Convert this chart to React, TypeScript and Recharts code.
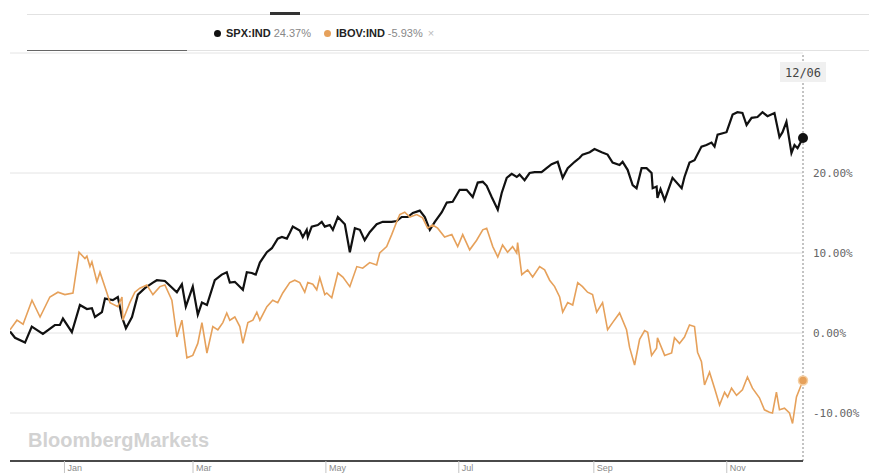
import React from 'react';
import {
  LineChart,
  Line,
  XAxis,
  YAxis,
  CartesianGrid,
  ReferenceLine,
  ReferenceDot,
} from 'recharts';

// ---- data (day offset from 2020-12-07, % change) ----
const monthTicks = [25, 84, 145, 206, 268, 329];
const monthLabels = ['Jan', 'Mar', 'May', 'Jul', 'Sep', 'Nov'];
const yTicks = [-10, 0, 10, 20];
const seriesNames = ['SPX:IND', 'IBOV:IND'];
const seriesChanges = ['24.37%', '-5.93%'];
const seriesColors = ['#111111', '#e6a15b'];
const lastDay = 364;
const lastDateLabel = '12/06';

const spx: [number, number][] = [
  [0, 0.2], [2.3, -0.6], [6.9, -1.2], [10, 0.8], [15.1, -0.1], [20.6, 1.0], [22.9, 1.0], [24.3, 1.8],
  [28.4, 0.1], [32.1, 3.5], [35.3, 3.0], [37.6, 3.1], [39, 2.0], [42.2, 2.6], [43.6, 4.3], [47.2, 4.1],
  [49.5, 4.5], [51.4, 2.0], [53.2, 0.6], [56, 2.0], [58.7, 4.8], [61.9, 5.6], [65.6, 6.3], [67.4, 6.6],
  [71.1, 6.5], [76.6, 5.1], [78.9, 6.1], [80.7, 3.3], [83.9, 5.8], [86.2, 2.3], [88.1, 3.8], [90.4, 3.5],
  [94, 6.6], [97.2, 7.3], [99.5, 7.6], [100.9, 6.3], [103.2, 6.4], [106.9, 5.4], [108.7, 7.6], [111, 7.5],
  [112.8, 7.3], [114.7, 8.8], [117.9, 10.1], [120.2, 10.6], [122.9, 11.8], [124.8, 12.0], [127.1, 11.8],
  [128.4, 12.5], [129.8, 13.3], [133, 12.8], [134.4, 12.0], [136.2, 12.9], [136.7, 12.0], [138.5, 13.3],
  [141.3, 13.5], [143.1, 13.9], [144.5, 13.3], [146.8, 13.5], [148.2, 12.9], [150.5, 14.5], [153.7, 13.6],
  [156, 10.1], [158.3, 13.1], [160.6, 12.9], [162.8, 11.6], [165.1, 12.6], [168.3, 13.6], [171.1, 13.9],
  [175.2, 13.9], [177.5, 14.0], [179.8, 14.5], [182.6, 14.5], [184.9, 15.0], [188.1, 15.3], [190.4, 14.5],
  [192.7, 12.9], [195, 13.9], [198.2, 15.1], [200.5, 16.3], [203.2, 16.4], [206.4, 17.9], [209.6, 17.9],
  [212.4, 17.0], [214.7, 18.8], [217, 18.9], [218.8, 18.4], [221.1, 17.0], [223.9, 15.4], [225.7, 17.5],
  [228, 19.4], [230.3, 19.9], [232.6, 19.5], [233.9, 19.8], [236.2, 19.1], [238.5, 20.0], [240.8, 20.1],
  [244, 20.1], [246.3, 20.6], [248.6, 21.1], [251.4, 21.4], [253.7, 19.4], [256, 20.6], [259.2, 21.4],
  [261.5, 21.9], [262.8, 22.3], [266.1, 22.6], [268.3, 23.0], [271.6, 22.6], [274.3, 22.3], [276.6, 21.3],
  [279.8, 21.0], [281.2, 21.4], [283.5, 20.4], [285.8, 18.5], [287.6, 18.1], [289.9, 20.6], [292.2, 20.6],
  [294.5, 20.0], [295, 18.1], [296.8, 18.3], [297.2, 16.9], [298.6, 18.0], [300.5, 16.6], [304.1, 19.4],
  [308.3, 18.1], [309.6, 19.5], [311.9, 21.3], [314.2, 21.6], [317.4, 23.3], [319.7, 23.5], [322, 23.8],
  [323.4, 23.3], [324.8, 24.8], [328.9, 25.1], [331.7, 27.3], [333.9, 27.6], [336.2, 27.5], [338.1, 26.0],
  [340.4, 26.9], [343.1, 27.0], [345.4, 27.6], [347.7, 27.1], [350.9, 27.5], [353.2, 24.5], [354.6, 25.1],
  [356.4, 26.4], [358.7, 22.5], [360.1, 23.5], [361.5, 23.1], [364, 24.37],
];

const ibov: [number, number][] = [
  [0, 0.4], [3.2, 1.6], [6, 1.1], [10.1, 4.1], [13.8, 2.0], [18.3, 4.5], [22, 5.1], [25.2, 4.8],
  [28.9, 5.0], [31.7, 10.1], [34.4, 9.3], [35.3, 9.6], [36.7, 8.3], [37.6, 8.9], [39.9, 6.4], [41.3, 7.6],
  [44.5, 5.0], [45.9, 3.8], [49.5, 3.3], [51.4, 4.5], [51.8, 1.6], [55, 3.8], [57.3, 5.1], [59.6, 5.6],
  [62.8, 6.0], [65.6, 4.8], [68.8, 5.8], [71.1, 6.0], [74.3, 4.1], [76.6, -0.5], [78.9, 1.6], [81.2, -3.1],
  [83.9, -2.8], [86.2, -1.3], [88.1, 1.3], [90.4, -2.5], [93.1, 0.8], [95.4, 0.4], [97.7, 1.3], [99.5, 2.5],
  [100.9, 1.6], [103.2, 2.0], [105.5, 0.8], [106.9, -1.3], [109.2, 1.3], [111.5, 1.6], [113.3, 2.6],
  [114.7, 1.6], [117.9, 3.3], [120.6, 4.1], [122.9, 3.8], [125.2, 5.0], [128.4, 6.3], [130.7, 6.6],
  [133, 6.3], [135.3, 5.1], [136.7, 6.3], [139, 6.1], [140.8, 5.4], [142.2, 6.9], [144.5, 4.8], [145.4, 5.0],
  [147.7, 4.4], [150.5, 7.5], [152.8, 7.0], [156, 5.8], [159.2, 8.3], [161.9, 8.1], [165.1, 8.8],
  [168.3, 8.5], [169.7, 10.0], [172.9, 10.8], [175.2, 12.3], [177.5, 13.9], [178.9, 14.8], [181.2, 15.1],
  [183.5, 14.5], [186.7, 14.8], [189.4, 14.4], [191.7, 13.1], [194, 13.5], [196.3, 13.1], [199.5, 12.0],
  [202.8, 12.3], [205.5, 10.8], [207.8, 12.3], [211, 10.4], [214.2, 11.6], [217, 12.9], [218.8, 13.1],
  [221.6, 10.8], [223.9, 9.5], [226.1, 11.0], [228.4, 10.1], [230.7, 10.8], [232.6, 10.0], [233, 11.3],
  [234.9, 7.3], [237.6, 7.9], [239.9, 7.0], [243.1, 8.3], [245.4, 7.9], [247.7, 6.6], [250, 5.8],
  [252.3, 4.5], [253.7, 2.6], [256, 3.8], [258.3, 3.5], [260.6, 6.3], [262.8, 5.8], [265.1, 5.1],
  [267.4, 4.8], [269.3, 2.6], [272, 3.8], [274.3, 0.4], [276.6, 1.3], [279.8, 2.5], [283, 0.4],
  [284.4, -1.8], [286.7, -4.0], [289, -0.8], [291.3, 0.3], [292.7, 0.1], [294.5, -2.8], [296.8, -1.9],
  [297.2, -0.6], [300.5, -2.8], [303.7, -2.5], [305, -0.6], [307.3, -1.3], [309.6, -0.5], [311.9, 1.0],
  [314.2, 0.8], [315.6, -2.4], [317.4, -3.6], [318.8, -6.5], [321.1, -4.9], [323.4, -6.9], [325.7, -9.0],
  [328, -7.4], [329.4, -8.0], [331.2, -6.9], [333.5, -7.8], [336.2, -7.1], [338.5, -5.5], [340.8, -6.9],
  [344, -8.1], [346.3, -9.6], [348.6, -9.9], [350, -10.0], [351.8, -7.4], [353.2, -9.6], [355.5, -9.4],
  [357.8, -10.0], [359.2, -11.3], [361, -8.0], [364, -5.93],
];

const toRows = (pts: [number, number][]) => pts.map(([day, value]) => ({ day, value }));
const spxData = toRows(spx);
const ibovData = toRows(ibov);
const seriesData = [spxData, ibovData];

const mono = "'DejaVu Sans Mono', 'Liberation Mono', monospace";
const sans = "'Liberation Sans', Arial, sans-serif";

const XTick = (props: any) => {
  const { x, y, payload } = props;
  const i = monthTicks.indexOf(payload.value);
  return (
    <g>
      <line x1={x} x2={x} y1={y} y2={y + 12} stroke="#c4c4c4" strokeWidth={1} />
      <text x={x + 3} y={y + 10} fontSize={9} fill="#8a8a8a" fontFamily={sans}>
        {monthLabels[i]}
      </text>
    </g>
  );
};

const YTick = (props: any) => {
  const { x, y, payload } = props;
  return (
    <text x={x} y={y} dy={4} fontSize={11} fill="#666" fontFamily={mono} textAnchor="start">
      {`${payload.value.toFixed(2)}%`}
    </text>
  );
};

const DateLabel = (props: any) => {
  const vb = props.viewBox || {};
  const cx = vb.x ?? 0;
  const top = (vb.y ?? 0) + 9;
  return (
    <g>
      <rect x={cx - 23} y={top} width={46} height={20} fill="#f0f0f0" />
      <text x={cx} y={top + 15} textAnchor="middle" fontSize={12} fill="#444" fontFamily={mono}>
        {lastDateLabel}
      </text>
    </g>
  );
};

const LegendContent = () => (
  <div style={{ display: 'flex', alignItems: 'center', fontFamily: sans, fontSize: 11, whiteSpace: 'nowrap' }}>
    {seriesNames.map((n, i) => (
      <span key={n} style={{ display: 'inline-flex', alignItems: 'center', marginRight: 13 }}>
        <span
          style={{
            display: 'inline-block',
            width: 7,
            height: 7,
            borderRadius: '50%',
            background: seriesColors[i],
            marginRight: 5,
          }}
        />
        <span style={{ fontWeight: 'bold', color: '#222', marginRight: 3 }}>{n}</span>
        <span style={{ color: '#888' }}>{seriesChanges[i]}</span>
        {i === seriesNames.length - 1 && <span style={{ color: '#bbb', marginLeft: 5 }}>×</span>}
      </span>
    ))}
  </div>
);

export default function App() {
  return (
    <div style={{ position: 'fixed', left: 0, top: 0, width: 869, height: 473, background: '#fff', overflow: 'hidden' }}>
      {/* header rules */}
      <div style={{ position: 'absolute', left: 27, top: 14, width: 842, height: 1, background: '#e2e2e2' }} />
      <div style={{ position: 'absolute', left: 270, top: 12, width: 30, height: 3, background: '#333' }} />
      <div style={{ position: 'absolute', left: 27, top: 50, width: 842, height: 1, background: '#e2e2e2' }} />
      <div style={{ position: 'absolute', left: 27, top: 49.5, width: 160, height: 1.5, background: '#666' }} />
      <div style={{ position: 'absolute', left: 214, top: 27 }}>
        <LegendContent />
      </div>

      <div style={{ position: 'absolute', left: 0, top: 0 }}>
        <LineChart width={869} height={473} margin={{ top: 53, right: 0, left: 10, bottom: 0 }}>
          <CartesianGrid vertical={false} stroke="#e4e4e4" />
          <XAxis
            type="number"
            dataKey="day"
            domain={[0, lastDay]}
            ticks={monthTicks}
            interval={0}
            height={12}
            tickSize={0}
            tickMargin={0}
            tickLine={false}
            axisLine={{ stroke: '#4a4a4a', strokeWidth: 2 }}
            tick={<XTick />}
            allowDataOverflow
          />
          <YAxis
            orientation="right"
            type="number"
            domain={[-16, 35]}
            ticks={yTicks}
            interval={0}
            width={66}
            axisLine={false}
            tickLine={false}
            tickSize={0}
            tickMargin={10}
            tick={<YTick />}
            allowDataOverflow
          />
          <ReferenceLine x={lastDay} stroke="#888" strokeDasharray="2 2" label={<DateLabel />} />
          {seriesData.map((d, i) => (
            <Line
              key={seriesNames[i]}
              data={d}
              dataKey="value"
              name={seriesNames[i]}
              type="linear"
              stroke={seriesColors[i]}
              strokeWidth={i === 0 ? 2.2 : 1.6}
              dot={false}
              activeDot={false}
              isAnimationActive={false}
            />
          ))}
          <ReferenceDot x={lastDay} y={spx[spx.length - 1][1]} r={5} fill={seriesColors[0]} stroke="none" />
          <ReferenceDot x={lastDay} y={ibov[ibov.length - 1][1]} r={4.5} fill={seriesColors[1]} stroke="#f5cfa3" strokeWidth={1.5} />
        </LineChart>
      </div>

      <svg style={{ position: 'absolute', left: 0, top: 0, pointerEvents: 'none' }} width={869} height={473}>
        <text x={28} y={447} fontFamily={sans} fontWeight="bold" fontSize={20} fill="#d2d2d2">
          BloombergMarkets
        </text>
      </svg>
    </div>
  );
}
